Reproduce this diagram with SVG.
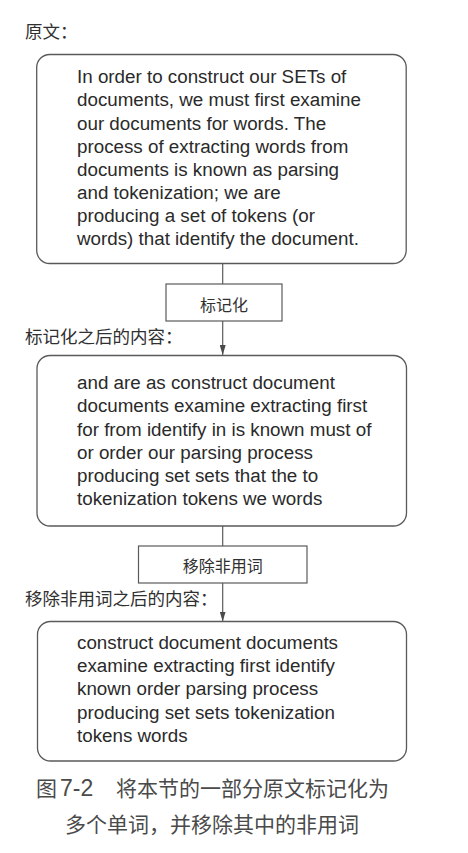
<svg xmlns="http://www.w3.org/2000/svg" width="468" height="853" viewBox="0 0 468 853">
  <style>
    .bg { fill: #ffffff; }
    .card { fill: #ffffff; stroke: #5a5a5a; stroke-width: 1.3; }
    .step { fill: #ffffff; stroke: #5a5a5a; stroke-width: 1.2; }
    .body { font-family: "Liberation Sans", Arial, sans-serif; font-size: 18.8px; fill: #2a2a2a; }
    .cjk { font-family: "Noto Sans CJK SC", "Noto Sans", sans-serif; fill: #303030; }
    .label { font-size: 17.5px; }
    .steptext { font-size: 16px; text-anchor: middle; }
    .caption { font-family: "Noto Sans CJK SC", "Liberation Sans", sans-serif; font-size: 21px; fill: #4a4a4a; }
    .num { font-family: "Liberation Sans", Arial, sans-serif; font-size: 23px; fill: #4a4a4a; }
    .wire { fill: none; stroke: #5a5a5a; stroke-width: 1.2; }
  </style>
  <defs>
    <marker id="arrow" viewBox="0 0 10 6" refX="10" refY="3" markerWidth="10" markerHeight="6" markerUnits="userSpaceOnUse" orient="auto">
      <path d="M0,0 L10,3 L0,6 z" fill="#4a4a4a"/>
    </marker>
  </defs>

  <rect class="bg" x="0" y="0" width="468" height="853"/>

  <!-- connectors between the stages -->
  <g id="connectors">
    <line class="wire" x1="222.7" y1="263.5" x2="222.7" y2="284"/>
    <line class="wire" x1="222.7" y1="321" x2="222.7" y2="355" marker-end="url(#arrow)"/>
    <line class="wire" x1="222.7" y1="526" x2="222.7" y2="546"/>
    <line class="wire" x1="222.7" y1="583" x2="222.7" y2="621.5" marker-end="url(#arrow)"/>
  </g>

  <!-- original text -->
  <g id="original">
    <text class="cjk label" x="25" y="38">原文：</text>
    <rect class="card" x="36.7" y="54.5" width="369.5" height="209" rx="13" ry="13"/>
    <text class="body">
      <tspan x="77" y="83.3">In order to construct our SETs of</tspan>
      <tspan x="77" y="106.4">documents, we must first examine</tspan>
      <tspan x="77" y="129.5">our documents for words. The</tspan>
      <tspan x="77" y="152.6">process of extracting words from</tspan>
      <tspan x="77" y="175.7">documents is known as parsing</tspan>
      <tspan x="77" y="198.8">and tokenization; we are</tspan>
      <tspan x="77" y="221.9">producing a set of tokens (or</tspan>
      <tspan x="77" y="245">words) that identify the document.</tspan>
    </text>
  </g>

  <!-- tokenization step -->
  <g id="tokenize">
    <rect class="step" x="166" y="284" width="116" height="37"/>
    <text class="cjk steptext" x="224" y="311">标记化</text>
  </g>

  <!-- content after tokenization -->
  <g id="tokens">
    <text class="cjk label" x="25" y="343">标记化之后的内容：</text>
    <rect class="card" x="37" y="355.5" width="369.5" height="170.5" rx="13" ry="13"/>
    <text class="body">
      <tspan x="77" y="389.3">and are as construct document</tspan>
      <tspan x="77" y="412.4">documents examine extracting first</tspan>
      <tspan x="77" y="435.5">for from identify in is known must of</tspan>
      <tspan x="77" y="458.6">or order our parsing process</tspan>
      <tspan x="77" y="481.7">producing set sets that the to</tspan>
      <tspan x="77" y="504.8">tokenization tokens we words</tspan>
    </text>
  </g>

  <!-- stop-word removal step -->
  <g id="stopwords">
    <rect class="step" x="138.5" y="546" width="168.5" height="37"/>
    <text class="cjk steptext" x="222.7" y="572">移除非用词</text>
  </g>

  <!-- content after stop-word removal -->
  <g id="filtered">
    <text class="cjk label" x="25" y="605">移除非用词之后的内容：</text>
    <rect class="card" x="37.5" y="621.5" width="369" height="139.5" rx="13" ry="13"/>
    <text class="body">
      <tspan x="77" y="649">construct document documents</tspan>
      <tspan x="77" y="672.2">examine extracting first identify</tspan>
      <tspan x="77" y="695.4">known order parsing process</tspan>
      <tspan x="77" y="718.6">producing set sets tokenization</tspan>
      <tspan x="77" y="741.8">tokens words</tspan>
    </text>
  </g>

  <!-- figure caption -->
  <g id="caption">
    <text class="caption" x="36" y="796">图</text>
    <text class="num" x="60" y="796">7-2</text>
    <text class="caption" x="116" y="796">将本节的一部分原文标记化为</text>
    <text class="caption" x="65" y="832">多个单词，并移除其中的非用词</text>
  </g>
</svg>
